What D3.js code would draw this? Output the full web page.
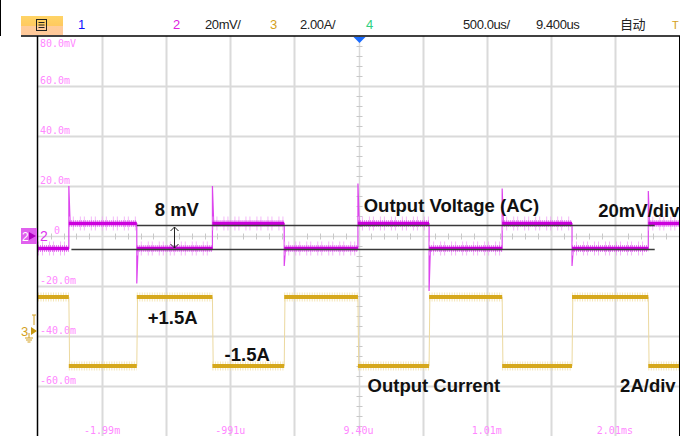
<!DOCTYPE html>
<html>
<head>
<meta charset="utf-8">
<script src="https://cdn.jsdelivr.net/npm/d3@7"></script>
<style>
  html, body { margin: 0; padding: 0; background: #fff; }
  svg { display: block; }
</style>
</head>
<body>
<svg id="scope" width="680" height="436"></svg>
<script>
/*
 */
var TIME_CENTER_US = 9.4,
    TIME_PER_DIV_US = 500,
    VOLT_PER_DIV_MV = 20,
    AMP_PER_DIV = 2,
    CH3_OFFSET_DIV = -1.9;

// edge times in us, first edge is a rising edge of the voltage
var edgeTimes = [-2250, -1720, -1130, -570, 5, 560, 1130, 1675, 2270];
var voltSpikes = [20, -19, 20, -12, 21, -22, 19, -12, 18];
var voltLevels = [-5.0, 5.0];       // mV, low / high
var currLevels = [1.36, -1.40];     // A, while voltage low / high

var yLabels = ['80.0mV', '60.0m', '40.0m', '20.0m', '0', '-20.0m', '-40.0m', '-60.0m'];
var yLabelValues = [80, 60, 40, 20, 0, -20, -40, -60];
var xLabels = ['-1.99m', '-991u', '9.40u', '1.01m', '2.01ms'];
var xLabelDivs = [-4, -2, 0, 2, 4];

var headerItems = [
  {text: '1', x: 78, color: '#1010ff'},
  {text: '2', x: 173, color: '#e020e0'},
  {text: '20mV/', x: 205, color: '#222'},
  {text: '3', x: 270, color: '#d4a020'},
  {text: '2.00A/', x: 300, color: '#222'},
  {text: '4', x: 366, color: '#30d080'},
  {text: '500.0us/', x: 463, color: '#222'},
  {text: '9.400us', x: 536, color: '#222'},
  {text: '自动', x: 620, color: '#222'},
  {text: 'T', x: 672, color: '#d4a020'}
];

// annotation reference lines: [t start, t end, mV]
var refLines = [[-1720, 2320, 4.6], [-2230, 2320, -5.0]];
var annoTexts = [
  {text: '8 mV', t: -1580, v: 8},
  {text: 'Output Voltage (AC)', t: 50, v: 9.5},
  {text: '20mV/div', t: 1880, v: 7.5}
];
var annoAmps = [
  {text: '+1.5A', t: -1635, a: 0.3},
  {text: '-1.5A', t: -1035, a: -1.2},
  {text: 'Output Current', t: 80, a: -2.45},
  {text: '2A/div', t: 2050, a: -2.45}
];

/*
 * Layout
 */
var PLOT_L = 38, PLOT_R = 679, PLOT_T = 36, PLOT_B = 436;
var FONT = '"Liberation Sans", Arial, sans-serif',
    MONO = '"DejaVu Sans Mono", monospace',
    LABEL_PINK = '#ff88ff';

var svg = d3.select('#scope');

var x = d3.scaleLinear()
  .domain([TIME_CENTER_US - 5 * TIME_PER_DIV_US, TIME_CENTER_US + 5 * TIME_PER_DIV_US])
  .range([PLOT_L, PLOT_R]);
var yV = d3.scaleLinear()
  .domain([-4 * VOLT_PER_DIV_MV, 4 * VOLT_PER_DIV_MV])
  .range([PLOT_B, PLOT_T]);
var yI = d3.scaleLinear()
  .domain([(-4 - CH3_OFFSET_DIV) * AMP_PER_DIV, (4 - CH3_OFFSET_DIV) * AMP_PER_DIV])
  .range([PLOT_B, PLOT_T]);

/* header */
svg.append('line').attr('x1', 0.5).attr('x2', 0.5).attr('y1', 0).attr('y2', 36)
  .attr('stroke', '#000');
var grad = svg.append('defs').append('linearGradient').attr('id', 'btn')
  .attr('x1', 0).attr('x2', 0).attr('y1', 0).attr('y2', 1);
grad.append('stop').attr('offset', '0%').attr('stop-color', '#ffd466');
grad.append('stop').attr('offset', '50%').attr('stop-color', '#ffca60');
grad.append('stop').attr('offset', '51%').attr('stop-color', '#ffcc99');
grad.append('stop').attr('offset', '100%').attr('stop-color', '#ffc89a');
svg.append('rect').attr('x', 21).attr('y', 16).attr('width', 42).attr('height', 19)
  .attr('fill', 'url(#btn)');
svg.append('rect').attr('x', 36.5).attr('y', 19.5).attr('width', 10).attr('height', 11)
  .attr('fill', 'none').attr('stroke', '#222').attr('stroke-width', 1);
[22.5, 25, 27.5].forEach(function (yy) {
  svg.append('line').attr('x1', 38.5).attr('x2', 44.5).attr('y1', yy).attr('y2', yy)
    .attr('stroke', '#222');
});

svg.selectAll('text.hdr').data(headerItems).enter().append('text')
  .attr('class', 'hdr')
  .attr('x', function (d) { return d.x; })
  .attr('y', 29)
  .attr('fill', function (d) { return d.color; })
  .style('font-family', function (d) { return d.text === '自动' ? '"Noto Sans CJK SC"' : FONT; })
  .style('font-size', function (d) { return d.text === 'T' ? '11px' : '13px'; })
  .style('letter-spacing', '-0.4px')
  .text(function (d) { return d.text; });

/* grid */
var grid = svg.append('g');
d3.range(-4, 5).forEach(function (k) {
  var gx = Math.round(x(TIME_CENTER_US + k * TIME_PER_DIV_US)) + 0.5;
  grid.append('line').attr('x1', gx).attr('x2', gx).attr('y1', PLOT_T).attr('y2', PLOT_B)
    .attr('stroke', '#dadada').attr('stroke-width', k === 0 ? 1.5 : 2);
});
d3.range(-3, 4).forEach(function (k) {
  var gy = Math.round(yV(k * VOLT_PER_DIV_MV)) + 0.5;
  grid.append('line').attr('x1', PLOT_L).attr('x2', PLOT_R).attr('y1', gy).attr('y2', gy)
    .attr('stroke', '#dadada').attr('stroke-width', k === 0 ? 1.5 : 2);
});
// minor ticks on centre axes
var cx = Math.round(x(TIME_CENTER_US)) + 0.5, cy = Math.round(yV(0)) + 0.5;
d3.range(-25, 26).forEach(function (k) {
  if (k % 5 === 0) return;
  var tx = Math.round(x(TIME_CENTER_US + k * TIME_PER_DIV_US / 5)) + 0.5;
  grid.append('line').attr('x1', tx).attr('x2', tx).attr('y1', cy - 3).attr('y2', cy + 3)
    .attr('stroke', '#c8c8c8');
});
d3.range(-20, 21).forEach(function (k) {
  if (k % 5 === 0) return;
  var ty = Math.round(yV(k * VOLT_PER_DIV_MV / 5)) + 0.5;
  grid.append('line').attr('x1', cx - 3).attr('x2', cx + 3).attr('y1', ty).attr('y2', ty)
    .attr('stroke', '#c8c8c8');
});

/* axis labels */
svg.selectAll('text.ylab').data(yLabels).enter().append('text')
  .attr('x', function (d) { return d === '0' ? 54 : 40; })
  .attr('y', function (d, i) { return i === 0 ? 47 : yV(yLabelValues[i]) - 2; })
  .attr('fill', LABEL_PINK)
  .style('font-family', MONO).style('font-size', '10px')
  .text(function (d) { return d; });
svg.selectAll('text.xlab').data(xLabels).enter().append('text')
  .attr('x', function (d, i) { return x(TIME_CENTER_US + xLabelDivs[i] * TIME_PER_DIV_US); })
  .attr('y', 434)
  .attr('text-anchor', 'middle')
  .attr('fill', LABEL_PINK)
  .style('font-family', MONO).style('font-size', '10px')
  .text(function (d) { return d; });

/* traces */
var tMin = x.domain()[0], tMax = x.domain()[1];
var bounds = [tMin].concat(edgeTimes, [tMax]);

function levelSegments(levels) {
  var segs = [];
  for (var i = 0; i < bounds.length - 1; i++) {
    segs.push([[bounds[i], levels[i % 2]], [bounds[i + 1], levels[i % 2]]]);
  }
  return segs;
}

var lineV = d3.line().x(function (d) { return x(d[0]); }).y(function (d) { return yV(d[1]); });
var lineI = d3.line().x(function (d) { return x(d[0]); }).y(function (d) { return yI(d[1]); });

// current trace
var currPts = [[tMin, currLevels[0]]];
edgeTimes.forEach(function (t, i) {
  currPts.push([t, currLevels[i % 2]]);
  currPts.push([t + 6, currLevels[(i + 1) % 2]]);
});
currPts.push([tMax, currLevels[edgeTimes.length % 2]]);

svg.append('path').attr('d', lineI(currPts))
  .attr('fill', 'none').attr('stroke', '#ecd9a0').attr('stroke-width', 1);
var currSegs = levelSegments(currLevels);
svg.selectAll('path.cfz').data(currSegs).enter().append('path')
  .attr('d', lineI).attr('fill', 'none')
  .attr('stroke', '#f0dc98').attr('stroke-width', 9)
  .attr('stroke-dasharray', '1 1.5').attr('opacity', 0.7);
svg.selectAll('path.cln').data(currSegs).enter().append('path')
  .attr('d', lineI).attr('fill', 'none')
  .attr('stroke', '#d6a81c').attr('stroke-width', 4);

// voltage trace
var voltPts = [[tMin, voltLevels[0]]];
edgeTimes.forEach(function (t, i) {
  voltPts.push([t, voltLevels[i % 2]]);
  voltPts.push([t, voltSpikes[i]]);
  voltPts.push([t + 10, voltLevels[(i + 1) % 2]]);
});
voltPts.push([tMax, voltLevels[edgeTimes.length % 2]]);

svg.append('path').attr('d', lineV(voltPts))
  .attr('fill', 'none').attr('stroke', '#dd44ee').attr('stroke-width', 1.2);
var voltSegs = levelSegments(voltLevels);
svg.selectAll('path.vfz2').data(voltSegs).enter().append('path')
  .attr('d', lineV).attr('fill', 'none')
  .attr('stroke', '#f0a8f6').attr('stroke-width', 14)
  .attr('stroke-dasharray', '1 3 1 6').attr('opacity', 0.8);
svg.selectAll('path.vfz').data(voltSegs).enter().append('path')
  .attr('d', lineV).attr('fill', 'none')
  .attr('stroke', '#dd55ee').attr('stroke-width', 7)
  .attr('stroke-dasharray', '1 1').attr('opacity', 0.75);
svg.selectAll('path.vln').data(voltSegs).enter().append('path')
  .attr('d', lineV).attr('fill', 'none')
  .attr('stroke', '#cc00dd').attr('stroke-width', 3.5);

/* plot frame */
svg.append('line').attr('x1', 21).attr('x2', 680).attr('y1', 36).attr('y2', 36)
  .attr('stroke', '#000').attr('stroke-width', 1.5);
svg.append('line').attr('x1', 37.5).attr('x2', 37.5).attr('y1', 36).attr('y2', 436)
  .attr('stroke', '#000').attr('stroke-width', 1.5);
svg.append('line').attr('x1', 679.5).attr('x2', 679.5).attr('y1', 36).attr('y2', 436)
  .attr('stroke', '#000').attr('stroke-width', 1);

// trigger marker
svg.append('path')
  .attr('d', 'M' + (cx - 6) + ',37 L' + (cx + 6) + ',37 L' + cx + ',43 Z')
  .attr('fill', '#1a6cff');

// channel 2 marker
var ch2y = yV(0);
svg.append('rect').attr('x', 21).attr('y', ch2y - 8).attr('width', 16).attr('height', 16)
  .attr('fill', '#e060ee');
svg.append('text').attr('x', 22).attr('y', ch2y + 5).attr('fill', '#fff')
  .style('font-family', FONT).style('font-size', '12px').text('2');
svg.append('path').attr('d', 'M29,' + (ch2y - 4) + ' L36,' + ch2y + ' L29,' + (ch2y + 4) + ' Z')
  .attr('fill', '#b000c0');
svg.append('text').attr('x', 40).attr('y', ch2y + 5).attr('fill', '#dd33ee')
  .style('font-family', FONT).style('font-size', '14px').text('2');

// channel 3 marker
var ch3y = yI(0);
svg.append('text').attr('x', 21).attr('y', ch3y + 5).attr('fill', '#d4a020')
  .style('font-family', FONT).style('font-size', '13px').text('3');
svg.append('path').attr('d', 'M31,' + (ch3y - 4) + ' L37,' + ch3y + ' L31,' + (ch3y + 4) + ' Z')
  .attr('fill', '#c89810');
svg.append('path')
  .attr('d', 'M32,' + (ch3y - 16) + ' L36,' + (ch3y - 16) + ' M34,' + (ch3y - 16) + ' L34,' + (ch3y - 6) +
        ' M29,' + (ch3y + 2) + ' L29,' + (ch3y + 7) + ' M25,' + (ch3y + 7) + ' L33,' + (ch3y + 7) +
        ' M26,' + (ch3y + 9) + ' L32,' + (ch3y + 9) + ' M27.5,' + (ch3y + 11) + ' L30.5,' + (ch3y + 11))
  .attr('stroke', '#d4a020').attr('fill', 'none');

/* annotations */
svg.selectAll('line.ref').data(refLines).enter().append('line')
  .attr('x1', function (d) { return x(d[0]); })
  .attr('x2', function (d) { return x(d[1]); })
  .attr('y1', function (d) { return Math.round(yV(d[2])) + 0.5; })
  .attr('y2', function (d) { return Math.round(yV(d[2])) + 0.5; })
  .attr('stroke', '#3a3a3a').attr('stroke-width', 1.5);

var ax = Math.round(x(-1430)) + 0.5,
    ay1 = Math.round(yV(refLines[0][2])) + 2,
    ay2 = Math.round(yV(refLines[1][2])) - 1;
svg.append('path')
  .attr('d', 'M' + ax + ',' + ay1 + ' L' + ax + ',' + ay2 +
        ' M' + (ax - 4) + ',' + (ay1 + 4) + ' L' + ax + ',' + ay1 + ' L' + (ax + 4) + ',' + (ay1 + 4) +
        ' M' + (ax - 4) + ',' + (ay2 - 4) + ' L' + ax + ',' + ay2 + ' L' + (ax + 4) + ',' + (ay2 - 4))
  .attr('stroke', '#222').attr('fill', 'none').attr('stroke-width', 1);

svg.selectAll('text.av').data(annoTexts).enter().append('text')
  .attr('x', function (d) { return x(d.t); })
  .attr('y', function (d) { return yV(d.v); })
  .attr('fill', '#111')
  .style('font-family', FONT).style('font-weight', 'bold').style('font-size', '18.5px')
  .text(function (d) { return d.text; });
svg.selectAll('text.ai').data(annoAmps).enter().append('text')
  .attr('x', function (d) { return x(d.t); })
  .attr('y', function (d) { return yI(d.a); })
  .attr('fill', '#111')
  .style('font-family', FONT).style('font-weight', 'bold').style('font-size', '18.5px')
  .text(function (d) { return d.text; });
</script>
</body>
</html>
